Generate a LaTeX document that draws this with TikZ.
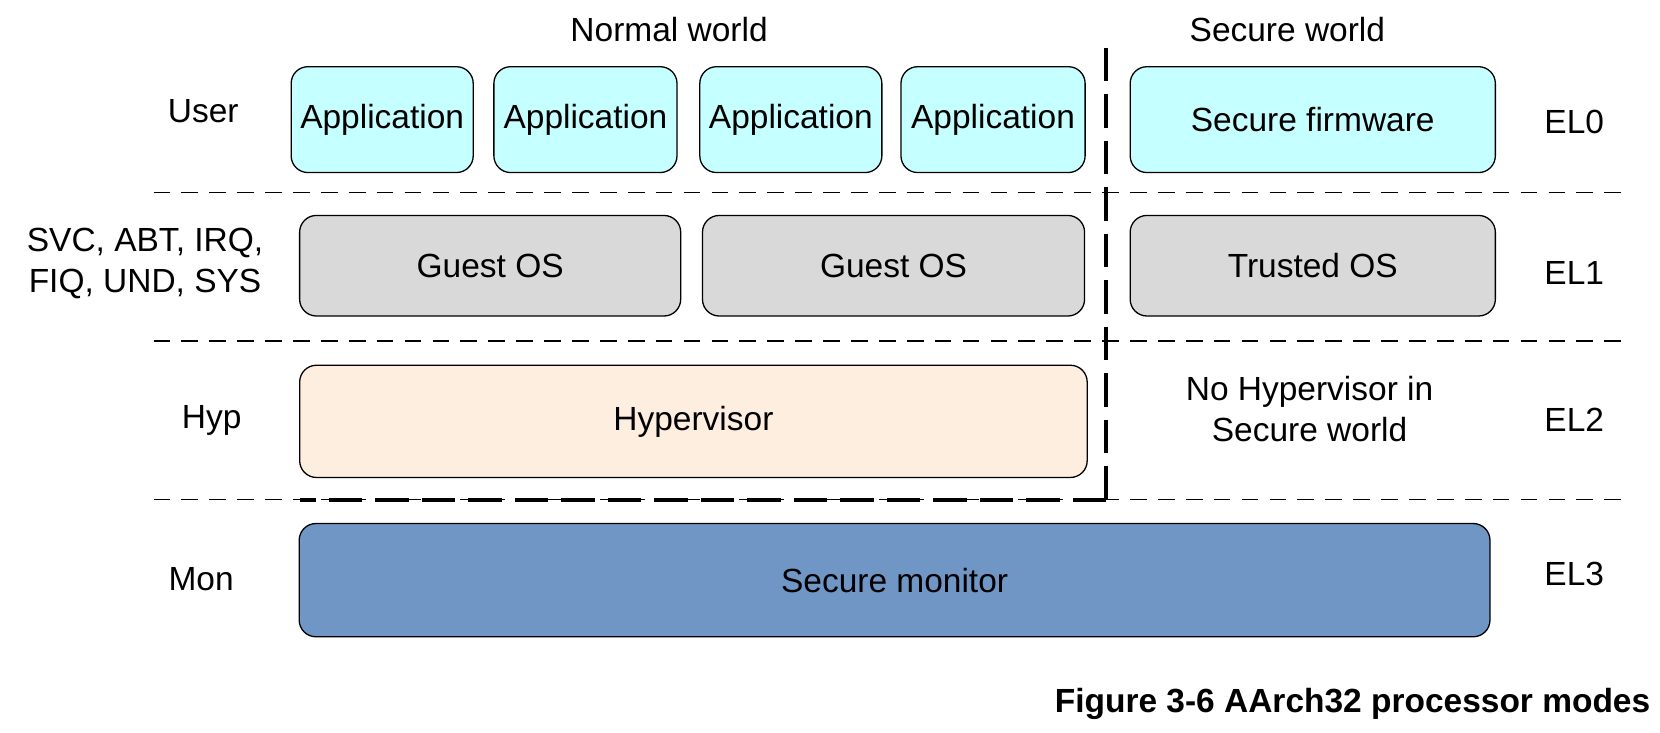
\documentclass[tikz,border=0pt]{standalone}
\usepackage{fontspec}
\setmainfont{Liberation Sans}
\usepackage{tikz}
\usetikzlibrary{positioning}

\definecolor{appcyan}{HTML}{C6FFFF}
\definecolor{osgray}{HTML}{D9D9D9}
\definecolor{hyppeach}{HTML}{FDEEE0}
\definecolor{monblue}{HTML}{7096C6}

\begin{document}
\begin{tikzpicture}[x=0.02cm,y=-0.02cm,
	every node/.style={font=\fontsize{18}{22}\selectfont},
	box/.style={draw=black,rounded corners=9pt,line width=0.7pt,inner sep=0pt},
	level/.style={line width=0.8pt,dash pattern=on 9pt off 6pt},
	border/.style={line width=2pt,dash pattern=on 18pt off 7pt}]
		\useasboundingbox (0,0) rectangle (1568,692);

		%world titles
		\node (nw) at (632,28) {Normal world};
		\node (sw) at (1216,28) {Secure world};

		%level lines
		\draw[level] (145,182) -- (1540,182);
		\draw[level] (145,322) -- (1540,322);
		\draw[level] (145,472) -- (1540,472);

		%EL0 boxes
		\node[box,fill=appcyan,minimum width=3.44cm,minimum height=2cm] (a1) at (361,113) {Application};
		\node[box,fill=appcyan,minimum width=3.46cm,minimum height=2cm] (a2) at (553,113) {Application};
		\node[box,fill=appcyan,minimum width=3.44cm,minimum height=2cm] (a3) at (747,113) {Application};
		\node[box,fill=appcyan,minimum width=3.48cm,minimum height=2cm] (a4) at (938,113) {Application};
		\node[box,fill=appcyan,minimum width=6.9cm,minimum height=2cm] (sf) at (1240,113) {Secure firmware};

		%EL1 boxes
		\node[box,fill=osgray,minimum width=7.2cm,minimum height=1.9cm] (g1) at (463,251) {Guest OS};
		\node[box,fill=osgray,minimum width=7.22cm,minimum height=1.9cm] (g2) at (844,251) {Guest OS};
		\node[box,fill=osgray,minimum width=6.9cm,minimum height=1.9cm] (tos) at (1240,251) {Trusted OS};

		%EL2 and EL3 boxes
		\node[box,fill=hyppeach,minimum width=14.88cm,minimum height=2.12cm] (hyp) at (655,398) {Hypervisor};
		\node[box,fill=monblue,minimum width=22.5cm,minimum height=2.14cm] (mon) at (845,548) {Secure monitor};
		\node[align=center] (nohyp) at (1237,386) {No Hypervisor in\\Secure world};

		%world border
		\coordinate (b1) at (1045,45);
		\coordinate (b2) at (1045,472);
		\coordinate (b3) at (283,472);
		\draw[border] (b1) -- (b2);
		\draw[border] (b2) -- (b3);

		%mode labels
		\node (usr) at (192,105) {User};
		\node[align=center] (svc) at (137,249) {SVC, ABT, IRQ,\\FIQ, UND, SYS};
		\node (hp) at (200,397) {Hyp};
		\node (mn) at (190,547) {Mon};

		%exception levels
		\node (el0) at (1487,115) {EL0};
		\node (el1) at (1487,258) {EL1};
		\node (el2) at (1487,397) {EL2};
		\node (el3) at (1487,542) {EL3};

		%caption
		\node[anchor=east,font=\fontsize{18}{22}\selectfont\bfseries] (cap) at (1565,665) {Figure 3-6 AArch32 processor modes};
\end{tikzpicture}
\end{document}
